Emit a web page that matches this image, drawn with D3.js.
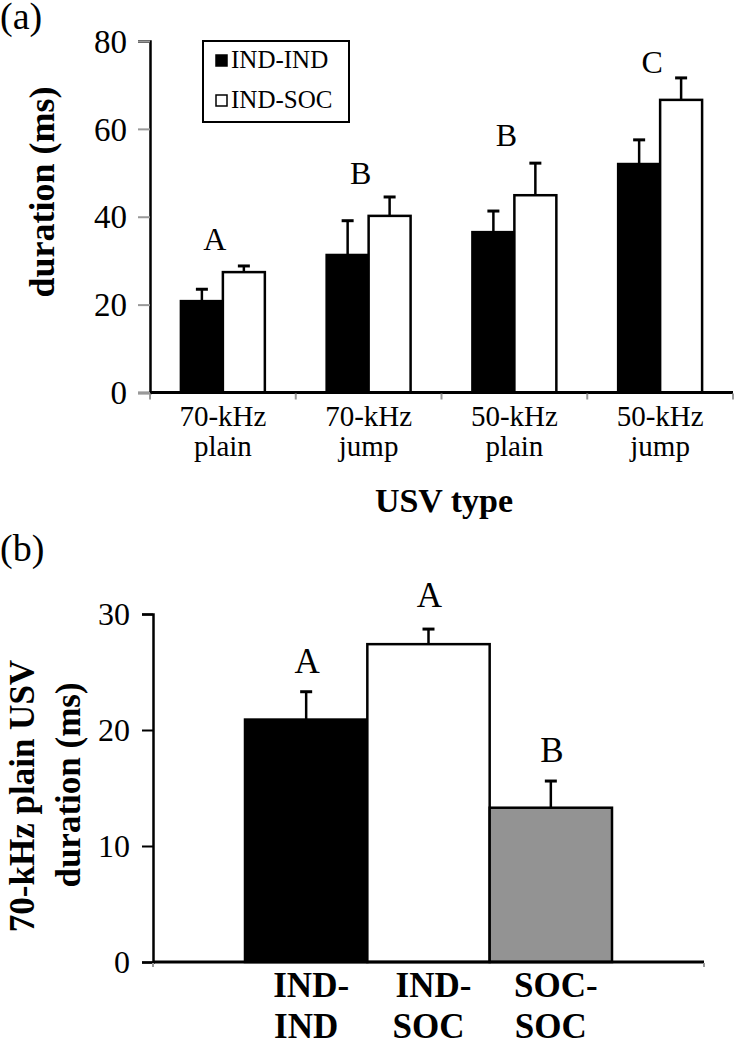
<!DOCTYPE html>
<html><head><meta charset="utf-8">
<script src="https://cdn.jsdelivr.net/npm/d3@7"></script>
<style>body{margin:0;background:#fff}svg{display:block}text{font-family:"Liberation Serif","Times New Roman",serif;fill:#000}</style>
</head><body>
<script>
// ---- Panel (a) data ----
const usvTypes = ["70-kHz plain","70-kHz jump","50-kHz plain","50-kHz jump"];
const usvTypeLines = [["70-kHz","plain"],["70-kHz","jump"],["50-kHz","plain"],["50-kHz","jump"]];
const seriesNames = ["IND-IND","IND-SOC"];
const indIndMean = [20.8, 31.3, 36.5, 52.0];
const indIndSem  = [2.7, 7.8, 4.8, 5.5];
const indSocMean = [27.4, 40.2, 44.9, 66.6];
const indSocSem  = [1.4, 4.3, 7.3, 5.0];
const lettersA   = ["A","B","B","C"];
const letterLevelA = [32.5, 47.5, 56, 72.7];
const yTicksA = [0,20,40,60,80];

// ---- Panel (b) data ----
const groupsB = ["IND-IND","IND-SOC","SOC-SOC"];
const groupLinesB = [["IND-","IND"],["IND-","SOC"],["SOC-","SOC"]];
const meansB = [20.9, 27.4, 13.3];
const semB   = [2.4, 1.3, 2.3];
const lettersB = ["A","A","B"];
const letterLevelB = [24.9, 30.6, 17.2];
const yTicksB = [0,10,20,30];

const W = 734, H = 1040;
const svg = d3.select("body").append("svg").attr("width", W).attr("height", H);

// ================= Panel (a) =================
(function(){
  const left = 150, top = 41, width = 583, height = 351.5;
  const g = svg.append("g").attr("transform", `translate(${left},${top})`);
  const x = d3.scaleBand().domain(usvTypes).range([0, width]).padding(0);
  const xs = d3.scaleBand().domain(seriesNames).range([x.bandwidth()*0.212, x.bandwidth()*0.788]).padding(0);
  const y = d3.scaleLinear().domain([0, 80]).range([height, 0]);
  const fills = {"IND-IND":"#000","IND-SOC":"#fff"};
  const rows = [];
  usvTypes.forEach((c,i)=>{
    rows.push({c, s:"IND-IND", m:indIndMean[i], e:indIndSem[i]});
    rows.push({c, s:"IND-SOC", m:indSocMean[i], e:indSocSem[i]});
  });
  const eb = g.append("g");
  rows.forEach(r=>{
    const cx = x(r.c) + xs(r.s) + xs.bandwidth()/2;
    eb.append("line").attr("x1",cx).attr("x2",cx).attr("y1",y(r.m)).attr("y2",y(r.m+r.e)).attr("stroke","#000").attr("stroke-width",2.5);
    eb.append("line").attr("x1",cx-6).attr("x2",cx+6).attr("y1",y(r.m+r.e)).attr("y2",y(r.m+r.e)).attr("stroke","#000").attr("stroke-width",3);
  });
  g.append("g").selectAll("rect").data(rows).join("rect")
    .attr("x", d=>x(d.c)+xs(d.s)).attr("width", xs.bandwidth())
    .attr("y", d=>y(d.m)).attr("height", d=>y(0)-y(d.m))
    .attr("fill", d=>fills[d.s]).attr("stroke","#000").attr("stroke-width",2.5);
  const ya = g.append("g").call(d3.axisLeft(y).tickValues(yTicksA).tickSize(12).tickPadding(11));
  ya.select(".domain").attr("stroke","#000").attr("stroke-width",2.5);
  ya.selectAll(".tick line").attr("stroke","#999").attr("stroke-width",2);
  ya.selectAll(".tick text").attr("font-size",33).attr("font-family","Liberation Serif").attr("dy","0.34em");
  g.append("line").attr("x1",0).attr("x2",width).attr("y1",height).attr("y2",height).attr("stroke","#000").attr("stroke-width",3);
  const bounds = usvTypes.map(c=>x(c)).concat([width]);
  g.append("g").selectAll("line").data(bounds).join("line")
    .attr("x1",d=>d).attr("x2",d=>d).attr("y1",height+1).attr("y2",height+7).attr("stroke","#999").attr("stroke-width",2);
  const cl = g.append("g").selectAll("text").data(usvTypes).join("text")
    .attr("text-anchor","middle").attr("font-size",29)
    .attr("x", c=>x(c)+x.bandwidth()/2).attr("y", height+33.5);
  cl.each(function(c,i){
    const t = d3.select(this);
    usvTypeLines[i].forEach((ln,j)=>t.append("tspan").attr("x", x(c)+x.bandwidth()/2).attr("dy", j===0?0:30).text(ln));
  });
  g.append("g").selectAll("text").data(usvTypes).join("text")
    .attr("text-anchor","middle").attr("font-size",32)
    .attr("x", c=>x(c)+x.bandwidth()/2-8).attr("y",(c,i)=>y(letterLevelA[i])).text((c,i)=>lettersA[i]);
  svg.append("text").attr("font-weight","bold").attr("font-size",34).attr("text-anchor","middle")
    .attr("x", 444).attr("y", 512).text("USV type");
  svg.append("text").attr("font-weight","bold").attr("font-size",36).attr("text-anchor","middle")
    .attr("transform","translate(54,192) rotate(-90)").text("duration (ms)");
  const lg = svg.append("g");
  lg.append("rect").attr("x",203).attr("y",41).attr("width",146).attr("height",81).attr("fill","#fff").attr("stroke","#000").attr("stroke-width",2);
  seriesNames.forEach((s,i)=>{
    const yy = 68 + i*40;
    lg.append("rect").attr("x",216).attr("y",yy-13).attr("width",11).attr("height",11).attr("fill",fills[s]).attr("stroke","#000").attr("stroke-width",1.5);
    lg.append("text").attr("x",231).attr("y",yy).attr("font-size",25).text(s);
  });
  svg.append("text").attr("x",0).attr("y",29).attr("font-size",38).text("(a)");
})();

// ================= Panel (b) =================
(function(){
  const left = 153, top = 614, width = 551, height = 348;
  const g = svg.append("g").attr("transform", `translate(${left},${top})`);
  const x = d3.scaleBand().domain(groupsB).range([0, width]).paddingInner(0).paddingOuter(0.752);
  const y = d3.scaleLinear().domain([0, 30]).range([height, 0]);
  const fills = ["#000","#fff","#939393"];
  const eb = g.append("g");
  groupsB.forEach((c,i)=>{
    const cx = x(c) + x.bandwidth()/2;
    eb.append("line").attr("x1",cx).attr("x2",cx).attr("y1",y(meansB[i])).attr("y2",y(meansB[i]+semB[i])).attr("stroke","#000").attr("stroke-width",2.5);
    eb.append("line").attr("x1",cx-6).attr("x2",cx+6).attr("y1",y(meansB[i]+semB[i])).attr("y2",y(meansB[i]+semB[i])).attr("stroke","#000").attr("stroke-width",3);
  });
  g.append("g").selectAll("rect").data(groupsB).join("rect")
    .attr("x", c=>x(c)).attr("width", x.bandwidth())
    .attr("y", (c,i)=>y(meansB[i])).attr("height", (c,i)=>y(0)-y(meansB[i]))
    .attr("fill", (c,i)=>fills[i]).attr("stroke","#000").attr("stroke-width",2.5);
  const ya = g.append("g").call(d3.axisLeft(y).tickValues(yTicksB).tickSize(11).tickPadding(12));
  ya.select(".domain").attr("stroke","#000").attr("stroke-width",2.5);
  ya.selectAll(".tick line").attr("stroke","#000").attr("stroke-width",2);
  ya.selectAll(".tick text").attr("font-size",32).attr("font-family","Liberation Serif").attr("dy","0.34em");
  g.append("line").attr("x1",0).attr("x2",width).attr("y1",height).attr("y2",height).attr("stroke","#000").attr("stroke-width",3);
  g.append("g").selectAll("line").data([0,width]).join("line")
    .attr("x1",d=>d).attr("x2",d=>d).attr("y1",height+1).attr("y2",height+5).attr("stroke","#999").attr("stroke-width",2);
  const cl = g.append("g").selectAll("text").data(groupsB).join("text")
    .attr("text-anchor","middle").attr("font-size",35).attr("font-weight","bold")
    .attr("x", c=>x(c)+x.bandwidth()/2+5).attr("y", height+35);
  cl.each(function(c,i){
    const t = d3.select(this);
    groupLinesB[i].forEach((ln,j)=>t.append("tspan").attr("x", x(c)+x.bandwidth()/2+(j===0?5:0)).attr("dy", j===0?0:41).text(ln));
  });
  g.append("g").selectAll("text").data(groupsB).join("text")
    .attr("text-anchor","middle").attr("font-size",35)
    .attr("x", c=>x(c)+x.bandwidth()/2+1).attr("y",(c,i)=>y(letterLevelB[i])).text((c,i)=>lettersB[i]);
  svg.append("text").attr("font-weight","bold").attr("font-size",35).attr("text-anchor","middle")
    .attr("transform","translate(34,796) rotate(-90)").text("70-kHz plain USV");
  svg.append("text").attr("font-weight","bold").attr("font-size",35).attr("text-anchor","middle")
    .attr("transform","translate(80,785) rotate(-90)").text("duration (ms)");
  svg.append("text").attr("x",0).attr("y",561).attr("font-size",38).text("(b)");
})();
</script>
</body></html>
